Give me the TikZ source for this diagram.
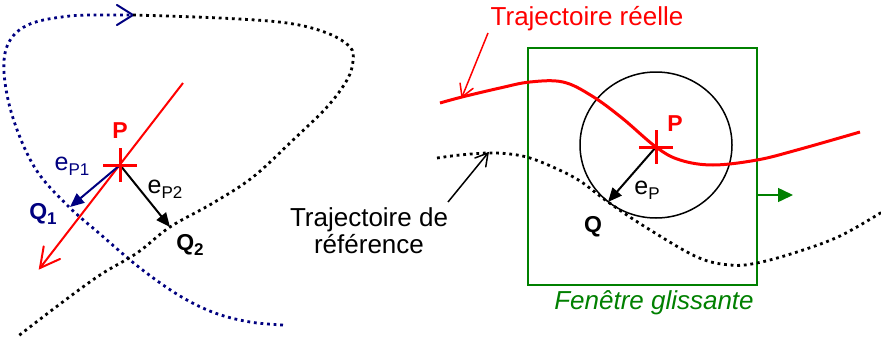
\documentclass[tikz,border=0pt]{standalone}
\usepackage{fontspec}
\setmainfont{Liberation Sans}
\usetikzlibrary{arrows.meta,calc}
\definecolor{navyblue}{RGB}{0,0,128}
\definecolor{dgreen}{RGB}{0,128,0}
\newcommand{\lowsub}[1]{\raisebox{-0.35ex}{\fontsize{17}{17}\selectfont #1}}
\newcommand{\boldsub}[1]{\raisebox{-0.35ex}{\fontsize{17}{17}\selectfont\bfseries #1}}
\begin{document}
\begin{tikzpicture}[x=1pt,y=-1pt,
  dotline/.style={line width=2.8pt, dash pattern=on 2.8pt off 3.8pt},
  lbl/.style={font=\fontsize{26}{27}\selectfont, inner sep=0pt},
  sublbl/.style={font=\fontsize{25}{27}\selectfont, inner sep=0pt},
  boldlbl/.style={font=\fontsize{23}{25}\selectfont\bfseries, inner sep=0pt},
  fillhead/.style={-{Triangle[length=14pt,width=12pt]}},
  barb/.style={line cap=round, line join=miter}]
\useasboundingbox (0,0) rectangle (881,343);

% ---------- left panel ----------
\coordinate (P1) at (120,165);
\coordinate (Q1) at (70,207);
\coordinate (Q2) at (170,227);
\coordinate (redtop) at (183,83);
\coordinate (redbot) at (40,268);
\coordinate (join) at (133,15);
\coordinate (joinback) at (100,15);

\draw[dotline, navyblue]
  plot[smooth, tension=0.6] coordinates {(283,325) (250,322) (215,313) (180,296) (140,268) (100,234) (67,205) (35,168) (13,118) (4,72) (9,42) (30,24) (70,16) (110,15) (join)};
\draw[navyblue, line width=2pt, barb] ($(join)!19pt!32:(joinback)$) -- (join) -- ($(join)!19pt!-32:(joinback)$);
\draw[dotline, black]
  plot[smooth, tension=0.6] coordinates {(join) (220,18) (287,23) (327,33) (350,47) (353,61) (347,80) (327,107) (293,140) (253,177) (213,203) (Q2) (137,253) (100,275) (60,304) (17,337)};

\draw[red, line width=2pt] (redtop) -- (redbot);
\draw[red, line width=2pt, barb] ($(redbot)!22pt!28:(redtop)$) -- (redbot) -- ($(redbot)!22pt!-28:(redtop)$);
\draw[navyblue, line width=2pt, fillhead] (P1) -- (Q1);
\draw[black, line width=2pt, fillhead] (P1) -- (Q2);
\draw[red, line width=3pt] (P1) +(-17,0) -- +(17,0) (P1) +(0,-17) -- +(0,17);

\node[boldlbl, red] (Plbl1) at (120,131) {P};
\node[sublbl, navyblue] (eP1) at (72,166) {e\lowsub{P1}};
\node[boldlbl, navyblue] (Q1lbl) at (43,214) {Q\boldsub{1}};
\node[sublbl, black] (eP2) at (165,189) {e\lowsub{P2}};
\node[boldlbl, black] (Q2lbl) at (190,245) {Q\boldsub{2}};

% ---------- middle text ----------
\node[lbl, align=center] (reftxt) at (369,231) {Trajectoire de\\référence};

% ---------- right panel ----------
\coordinate (P2) at (656,147);
\coordinate (Q) at (608,202);
\coordinate (refpeak) at (488,153);
\coordinate (refstart) at (448,202);
\coordinate (realpt) at (462,97);
\coordinate (realstart) at (488,33);

\draw[dgreen, line width=1.5pt] (528,48) rectangle (757,285);
\coordinate (gA) at (757,195);
\coordinate (gB) at (793,195);
\draw[dgreen, line width=1.5pt, -{Triangle[length=15pt,width=14pt]}] (gA) -- (gB);

\draw[black, line width=1.5pt] (656,145) ellipse [x radius=76, y radius=73];

\draw[dotline, black]
  plot[smooth, tension=0.6] coordinates {(437,158) (460,155) (refpeak) (510,154) (530,158) (555,168) (580,181) (Q) (647,228) (697,257) (730,265) (757,263) (797,252) (840,236) (882,212)};
\draw[red, line width=3pt]
  plot[smooth, tension=0.6] coordinates {(440,103) (realpt) (500,88) (530,82) (563,82) (592,96) (622,118) (P2) (680,160) (713,165) (757,160) (797,150) (860,132)};

\draw[black, line width=1.5pt] (refstart) -- (refpeak);
\draw[black, line width=1.5pt, barb] ($(refpeak)!14pt!30:(refstart)$) -- (refpeak) -- ($(refpeak)!14pt!-30:(refstart)$);
\draw[red, line width=1.5pt] (realstart) -- (realpt);
\draw[red, line width=1.5pt, barb] ($(realpt)!14pt!30:(realstart)$) -- (realpt) -- ($(realpt)!14pt!-30:(realstart)$);
\draw[black, line width=2pt, fillhead] (P2) -- (Q);
\draw[red, line width=3pt] (P2) +(-17,0) -- +(17,0) (P2) +(0,-17) -- +(0,17);

\node[boldlbl, red] (Plbl2) at (675,124) {P};
\node[sublbl, black] (eP) at (647,190) {e\lowsub{P}};
\node[boldlbl, black] (Qlbl) at (593,227) {Q};
\node[lbl, red] (realtxt) at (587,19) {Trajectoire réelle};
\node[lbl, dgreen, font=\fontsize{26}{27}\selectfont\itshape] (wintxt) at (654,303) {Fenêtre glissante};
\end{tikzpicture}
\end{document}
